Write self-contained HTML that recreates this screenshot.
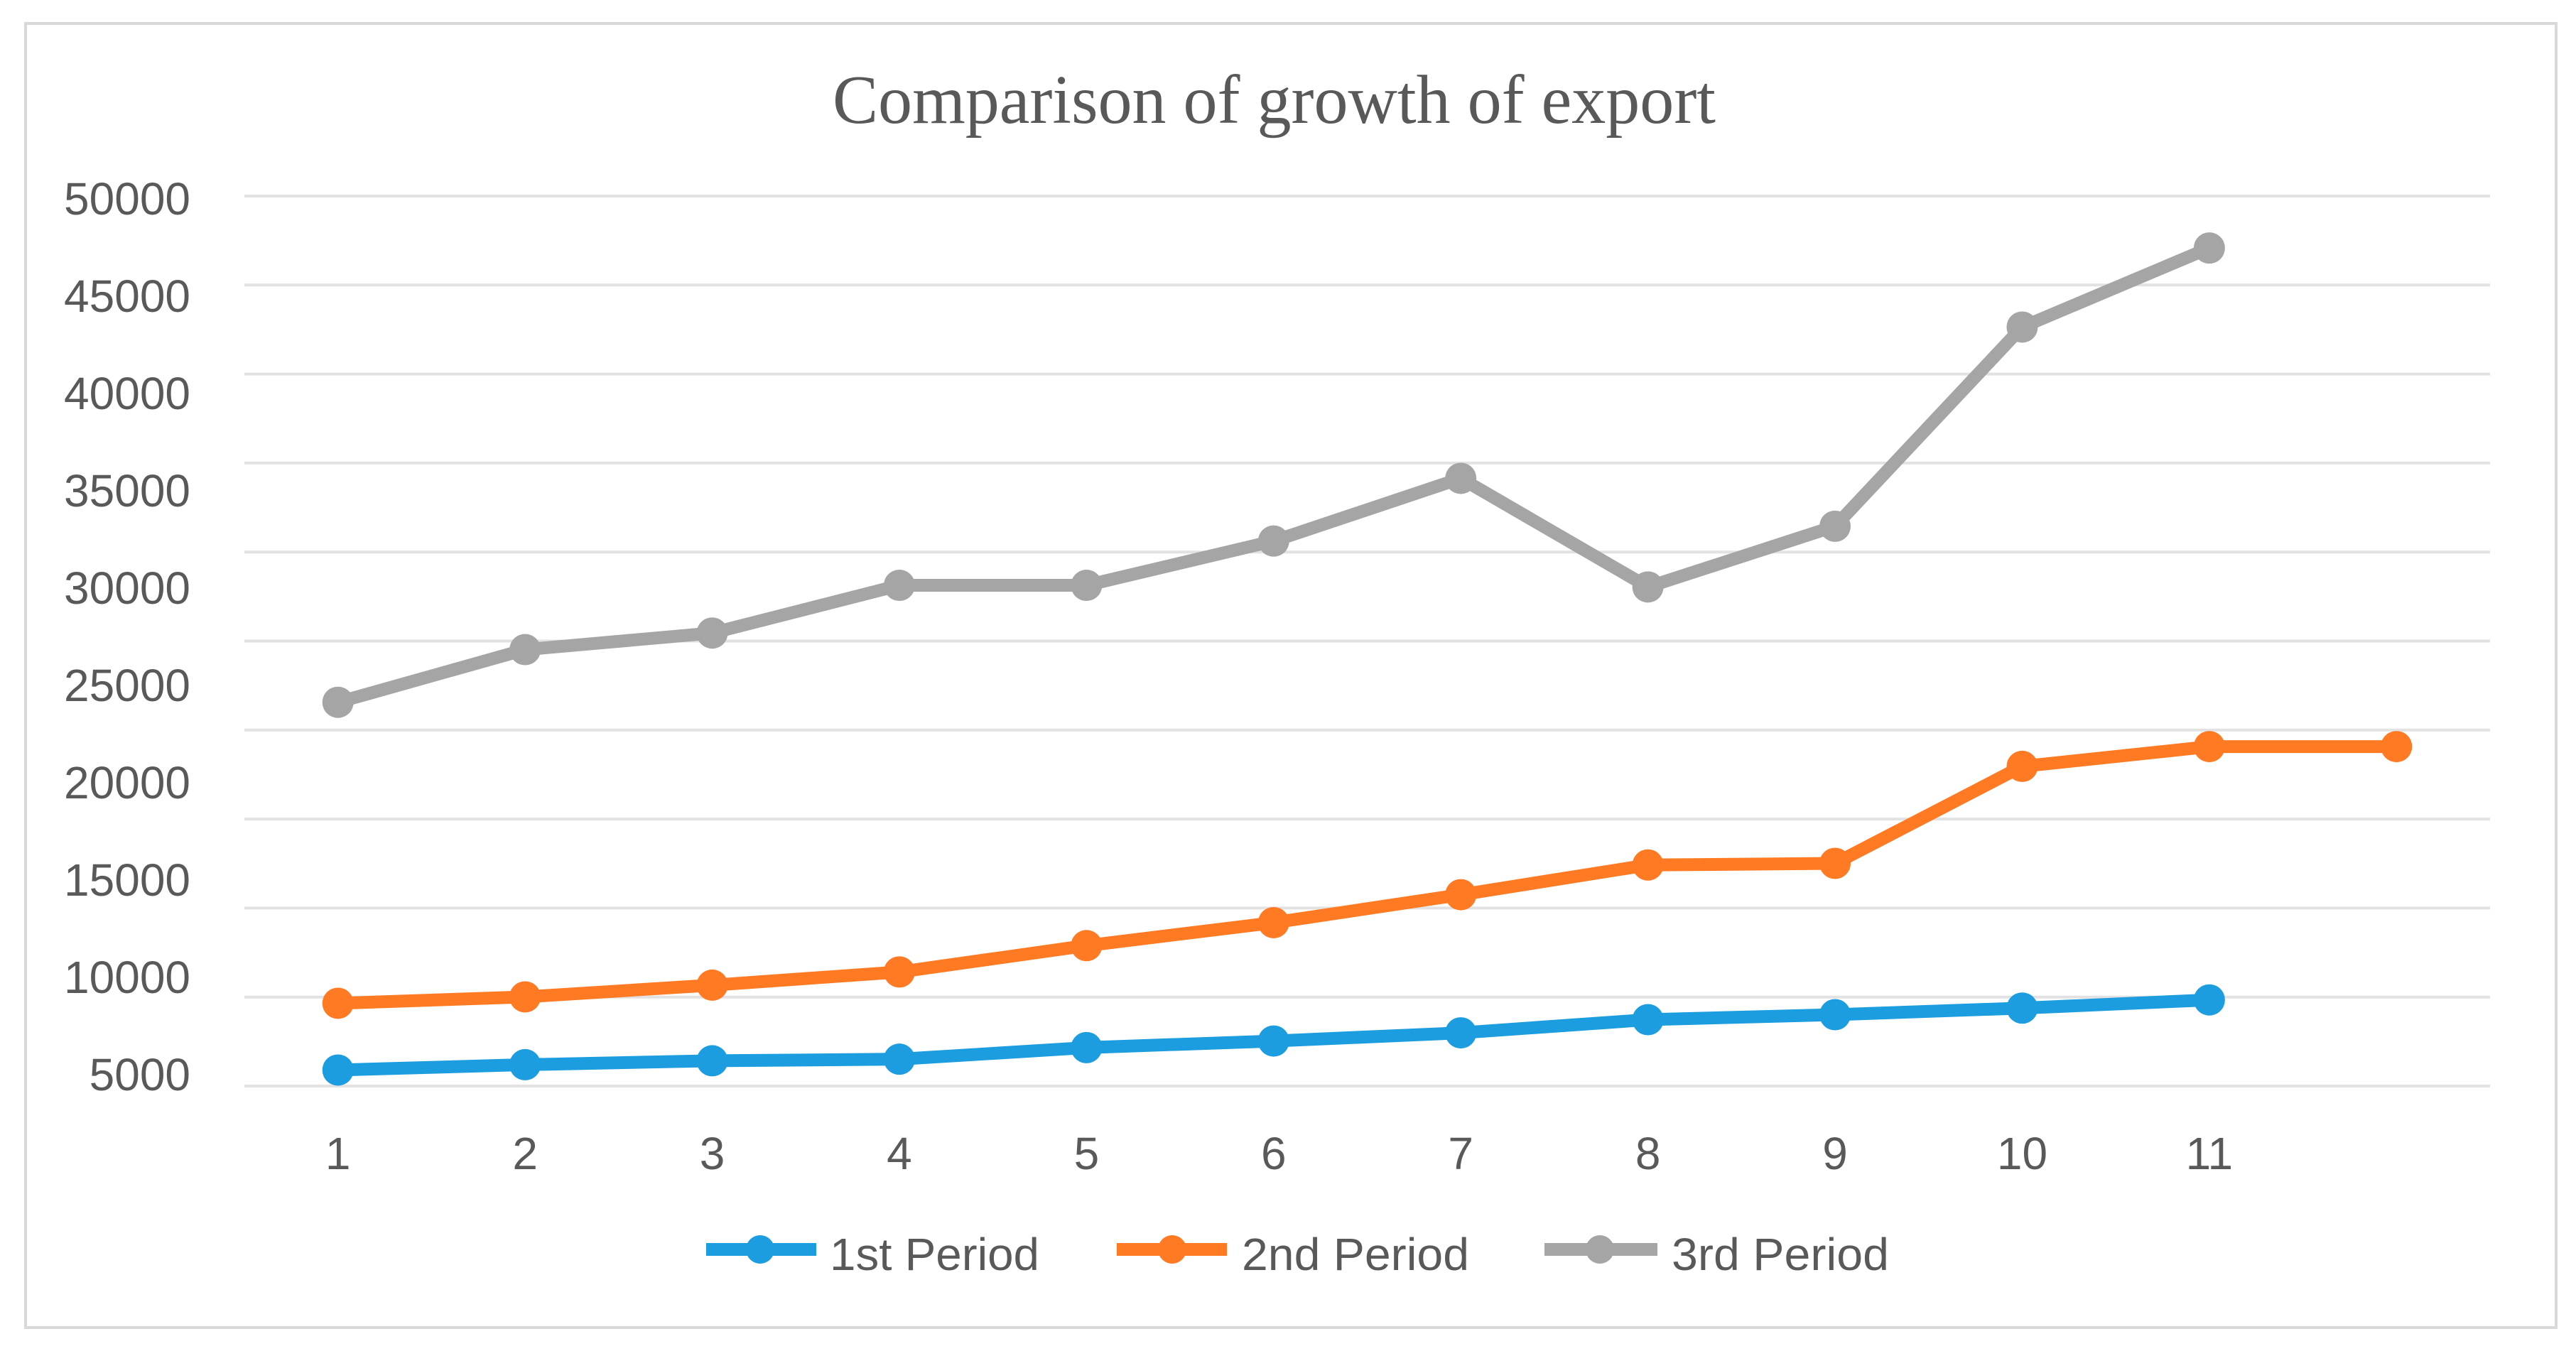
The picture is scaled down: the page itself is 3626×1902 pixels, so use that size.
<!DOCTYPE html>
<html lang="en">
<head>
<meta charset="utf-8">
<title>Comparison of growth of export</title>
<style>
html,body{margin:0;padding:0;background:#fff;}
svg{display:block;}
text{fill:#595959;font-family:"Liberation Sans",sans-serif;}
</style>
</head>
<body>
<svg id="chart" width="3626" height="1902" viewBox="0 0 3626 1902" xmlns="http://www.w3.org/2000/svg">
  <rect x="0" y="0" width="3626" height="1902" fill="#ffffff"/>
  <rect x="36" y="33" width="3562" height="1836" fill="#ffffff" stroke="#d9d9d9" stroke-width="4"/>
  <text x="1172" y="173" font-size="97" textLength="1243" lengthAdjust="spacingAndGlyphs" style="font-family:'Liberation Serif',serif">Comparison of growth of export</text>
  <g id="grid"></g>
  <g id="y-labels"></g>
  <g id="x-labels"></g>
  <g id="series"></g>
  <g>
    <g>
      <line x1="994" y1="1759" x2="1149" y2="1759" stroke="#1b9ddf" stroke-width="18"/>
      <circle cx="1070" cy="1759" r="20" fill="#1b9ddf"/>
      <text x="1168" y="1788" font-size="64" textLength="295" lengthAdjust="spacingAndGlyphs">1st Period</text>
    </g>
    <g>
      <line x1="1572" y1="1759" x2="1727" y2="1759" stroke="#ff7a22" stroke-width="18"/>
      <circle cx="1650" cy="1759" r="20" fill="#ff7a22"/>
      <text x="1748" y="1788" font-size="64" textLength="320" lengthAdjust="spacingAndGlyphs">2nd Period</text>
    </g>
    <g>
      <line x1="2174" y1="1759" x2="2333" y2="1759" stroke="#a5a5a5" stroke-width="18"/>
      <circle cx="2252" cy="1759" r="20" fill="#a5a5a5"/>
      <text x="2353" y="1788" font-size="64" textLength="306" lengthAdjust="spacingAndGlyphs">3rd Period</text>
    </g>
  </g>
</svg>
<script>
var categories = ["1","2","3","4","5","6","7","8","9","10","11",""];
var gridValues = [0,5000,10000,15000,20000,25000,30000,35000,40000,45000,50000];
var yTickLabels = [50000,45000,40000,35000,30000,25000,20000,15000,10000,5000];
var firstPeriod = [900,1200,1420,1510,2160,2530,2990,3730,4010,4380,4840];
var secondPeriod = [4650,5010,5670,6410,7890,9180,10750,12420,12510,17960,19070,19070];
var thirdPeriod = [21560,24520,25450,28130,28130,30620,34140,28040,31450,42640,47080];

var NS = "http://www.w3.org/2000/svg";
var plotLeft = 344, plotRight = 3505, plotTop = 276, plotBottom = 1529;
var yMax = 50000;

function xScale(i){ return plotLeft + (i + 0.5) * (plotRight - plotLeft) / categories.length; }
function yScale(v){ return plotBottom - v / yMax * (plotBottom - plotTop); }
// The source chart's printed labels drift from its gridlines, so they have their own scale.
function labelBaseline(v){ return 1535 - (v - 5000) / 5000 * 137; }

function make(tag, attrs){
  var el = document.createElementNS(NS, tag);
  for (var k in attrs) el.setAttribute(k, attrs[k]);
  return el;
}

var gridG = document.getElementById("grid");
gridValues.forEach(function(v){
  var y = yScale(v);
  var line = make("line", {x1: plotLeft, y1: y, x2: plotRight, y2: y, stroke: "#e2e2e2", "stroke-width": 4});
  
  
  gridG.appendChild(line);
});

var yG = document.getElementById("y-labels");
yTickLabels.forEach(function(v){
  var t = make("text", {x: 268, y: labelBaseline(v), "text-anchor": "end", "font-size": 64});
  
  
  t.textContent = String(v);
  yG.appendChild(t);
});

var xG = document.getElementById("x-labels");
categories.forEach(function(c, i){
  if (!c) return;
  var t = make("text", {x: xScale(i), y: 1646, "text-anchor": "middle", "font-size": 64});
  
  
  t.textContent = c;
  xG.appendChild(t);
});

var seriesG = document.getElementById("series");
function drawSeries(values, color, seriesName){
  var g = make("g", {});
  
  
  var pts = values.map(function(v, i){ return xScale(i) + "," + yScale(v); }).join(" ");
  var line = make("polyline", {points: pts, fill: "none", stroke: color, "stroke-width": 18, "stroke-linejoin": "round"});
  
  
  g.appendChild(line);
  values.forEach(function(v, i){
    var c = make("circle", {cx: xScale(i), cy: yScale(v), r: 22, fill: color});
    
    
    g.appendChild(c);
  });
  seriesG.appendChild(g);
}
drawSeries(firstPeriod, "#1b9ddf", "series-1st-period");
drawSeries(secondPeriod, "#ff7a22", "series-2nd-period");
drawSeries(thirdPeriod, "#a5a5a5", "series-3rd-period");
</script>
</body>
</html>
